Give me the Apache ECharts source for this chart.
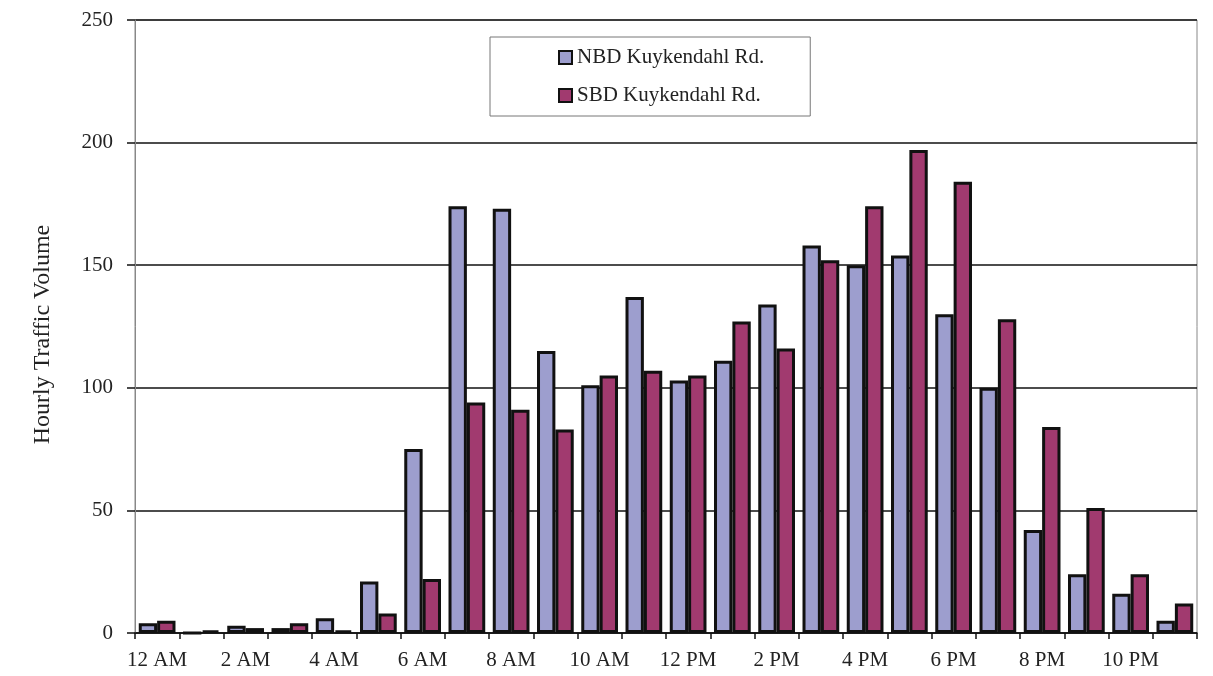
<!DOCTYPE html>
<html>
<head>
<meta charset="utf-8">
<script src="https://cdn.jsdelivr.net/npm/echarts@6/dist/echarts.min.js"></script>
<style>
  html, body { margin: 0; padding: 0; background: #fff; }
  #chart { width: 1213px; height: 676px; }
</style>
</head>
<body>
<div id="chart"></div>
<script>
// Hour-of-day categories
const hours = ['12 AM','1 AM','2 AM','3 AM','4 AM','5 AM','6 AM','7 AM','8 AM','9 AM','10 AM','11 AM',
               '12 PM','1 PM','2 PM','3 PM','4 PM','5 PM','6 PM','7 PM','8 PM','9 PM','10 PM','11 PM'];

// Hourly traffic volumes, northbound and southbound
const nbdVolume = [4, 0, 3, 2, 6, 21, 75, 174, 173, 115, 101, 137, 103, 111, 134, 158, 150, 154, 130, 100, 42, 24, 16, 5];
const sbdVolume = [5, 1, 2, 4, 1, 8, 22, 94, 91, 83, 105, 107, 105, 127, 116, 152, 174, 197, 184, 128, 84, 51, 24, 12];

const seriesNames = ['NBD Kuykendahl Rd.', 'SBD Kuykendahl Rd.'];
const yTicks = { min: 0, max: 250, interval: 50 };

const FONT = '"Liberation Serif", "Times New Roman", serif';
const TEXT = '#222';

const chart = echarts.init(document.getElementById('chart'), null, { renderer: 'canvas' });

chart.setOption({
  animation: false,
  backgroundColor: '#fff',
  grid: {
    left: 135, right: 16, top: 20, bottom: 43,
    show: true, borderColor: '#888', borderWidth: 1
  },
  legend: {
    orient: 'vertical',
    left: 490, top: 37,
    padding: [10, 46, 10, 68],
    itemGap: 17,
    itemWidth: 13, itemHeight: 13,
    icon: 'rect',
    backgroundColor: '#fff',
    borderColor: '#777', borderWidth: 1,
    textStyle: { fontFamily: FONT, fontSize: 21, color: TEXT },
    data: seriesNames
  },
  xAxis: {
    type: 'category',
    data: hours,
    boundaryGap: true,
    axisLine: { lineStyle: { color: '#111', width: 1.5 } },
    axisTick: { show: true, interval: 0, length: 6, lineStyle: { color: '#111', width: 1.5 } },
    axisLabel: { interval: 1, margin: 17, fontFamily: FONT, fontSize: 21, color: TEXT }
  },
  yAxis: {
    type: 'value',
    min: yTicks.min, max: yTicks.max, interval: yTicks.interval,
    name: 'Hourly Traffic Volume',
    nameLocation: 'middle',
    nameGap: 80,
    nameTextStyle: { fontFamily: FONT, fontSize: 24, color: TEXT, padding: [0, 16, 0, 0] },
    axisLine: { show: true, lineStyle: { color: '#888', width: 1 } },
    axisTick: { show: true, inside: false, length: 8, lineStyle: { color: '#111', width: 1.5 } },
    axisLabel: { margin: 22, fontFamily: FONT, fontSize: 21, color: TEXT },
    splitLine: { show: true, lineStyle: { color: '#111', width: 1.5 } }
  },
  series: [
    {
      name: seriesNames[0],
      type: 'bar',
      data: nbdVolume,
      barGap: '0%',
      barCategoryGap: '17%',
      itemStyle: { color: '#9d9ece', borderColor: '#111', borderWidth: 3 }
    },
    {
      name: seriesNames[1],
      type: 'bar',
      data: sbdVolume,
      barGap: '0%',
      barCategoryGap: '17%',
      itemStyle: { color: '#a13a6f', borderColor: '#111', borderWidth: 3 }
    }
  ]
});
</script>
</body>
</html>
